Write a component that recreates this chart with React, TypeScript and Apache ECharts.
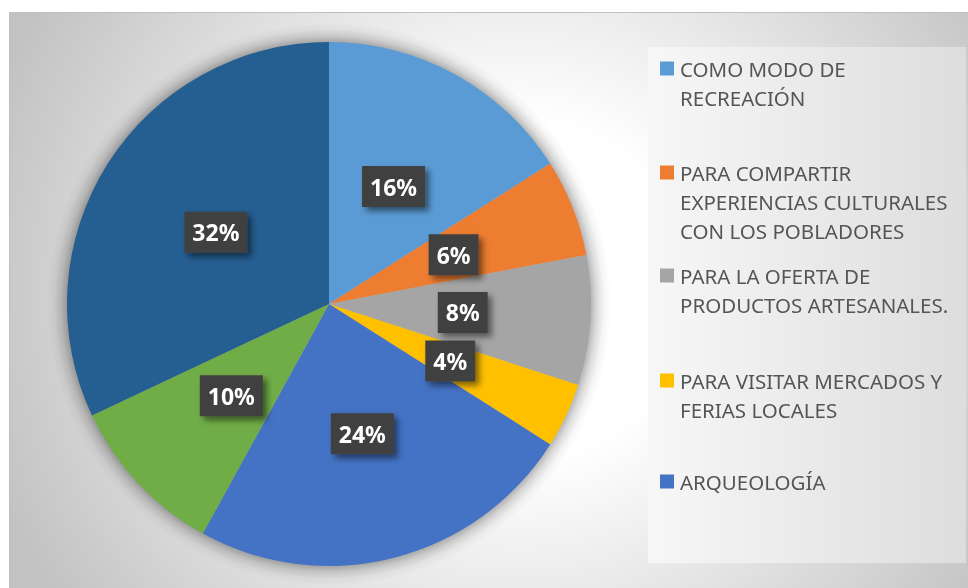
import React, { useEffect, useRef } from 'react';
import * as echarts from 'echarts';

const categories = [
  'COMO MODO DE\nRECREACIÓN',
  'PARA COMPARTIR\nEXPERIENCIAS CULTURALES\nCON LOS POBLADORES',
  'PARA LA OFERTA DE\nPRODUCTOS ARTESANALES.',
  'PARA VISITAR MERCADOS Y\nFERIAS LOCALES',
  'ARQUEOLOGÍA',
  'CATEGORÍA 6',
  'CATEGORÍA 7',
];
const values = [16, 6, 8, 4, 24, 10, 32];
const colors = ['#5B9BD5', '#ED7D31', '#A5A5A5', '#FFC000', '#4472C4', '#70AD47', '#255E91'];
const legendShown = 5;

export default function App() {
  const ref = useRef<HTMLDivElement>(null);
  useEffect(() => {
    const chart = echarts.init(ref.current!, null, { renderer: 'svg' });
    const legendTops = [58, 162, 265, 370, 471];
    const rich: any = {
      sp: { width: 14, height: 14 },
      t: { fontSize: 20.5, fontFamily: 'Noto Sans', color: '#555555', lineHeight: 29, padding: [0, 0, 0, 6] },
    };
    colors.forEach((c, i) => {
      rich['m' + i] = { width: 14, height: 14, backgroundColor: c };
    });
    const legends = categories.slice(0, legendShown).map((name, i) => ({
      data: [name],
      left: 655,
      top: legendTops[i],
      orient: 'vertical',
      icon: 'none',
      itemWidth: 0,
      itemHeight: 0,
      padding: 0,
      selectedMode: false,
      formatter: (n: string) =>
        n
          .split('\n')
          .map((l, j) => `{${j === 0 ? 'm' + i : 'sp'}|}{t|${l}}`)
          .join('\n'),
      textStyle: { rich },
    }));
    const center = [329, 304];
    const radius = 262;
    const shadowR = 282;
    const edge = radius / shadowR;
    chart.setOption({
      animation: false,
      graphic: [
        {
          type: 'rect',
          z: -10,
          silent: true,
          shape: { x: 9.5, y: 12.5, width: 970, height: 590 },
          style: {
            fill: new echarts.graphic.RadialGradient(
              520,
              290,
              560,
              [
                { offset: 0, color: '#ffffff' },
                { offset: 0.3, color: '#ffffff' },
                { offset: 1, color: '#c2c2c2' },
              ],
              true
            ),
            stroke: '#bfbfbf',
            lineWidth: 1,
          },
        },
        {
          type: 'rect',
          z: -9,
          silent: true,
          shape: { x: 648, y: 47, width: 318, height: 516 },
          style: {
            fill: new echarts.graphic.LinearGradient(0, 0, 1, 0, [
              { offset: 0, color: '#f7f7f7' },
              { offset: 1, color: '#dddddd' },
            ]),
          },
        },
      ],
      legend: legends,
      series: [
        {
          type: 'pie',
          name: 'sombra',
          center,
          radius: shadowR,
          silent: true,
          z: 1,
          data: [
            {
              value: 1,
              name: '__sombra',
              itemStyle: {
                color: {
                  type: 'radial',
                  x: 0.5,
                  y: 0.5,
                  r: 0.5,
                  colorStops: [
                    { offset: 0, color: 'rgba(0,0,0,0.3)' },
                    { offset: edge, color: 'rgba(0,0,0,0.28)' },
                    { offset: edge + (1 - edge) * 0.3, color: 'rgba(0,0,0,0.14)' },
                    { offset: edge + (1 - edge) * 0.65, color: 'rgba(0,0,0,0.04)' },
                    { offset: 1, color: 'rgba(0,0,0,0)' },
                  ],
                },
              },
            },
          ],
          label: { show: false },
          labelLine: { show: false },
          emphasis: { disabled: true },
        },
        {
          type: 'pie',
          center,
          radius,
          startAngle: 90,
          clockwise: true,
          z: 2,
          emphasis: { disabled: true },
          data: categories.map((n, i) => ({ name: n, value: values[i], itemStyle: { color: colors[i] } })),
          itemStyle: { borderWidth: 0 },
          label: {
            show: true,
            position: 'inside',
            formatter: '{c}%',
            color: '#ffffff',
            fontFamily: 'Noto Sans',
            fontWeight: 'bold',
            fontSize: 23,
            lineHeight: 25,
            backgroundColor: '#404040',
            padding: [8, 8],
            shadowColor: 'rgba(0,0,0,0.5)',
            shadowBlur: 6,
            shadowOffsetX: 4,
            shadowOffsetY: 4,
          },
          labelLine: { show: false },
        },
      ],
    });
    return () => chart.dispose();
  }, []);
  return <div ref={ref} style={{ position: 'fixed', left: 0, top: 0, width: 968, height: 588 }} />;
}
